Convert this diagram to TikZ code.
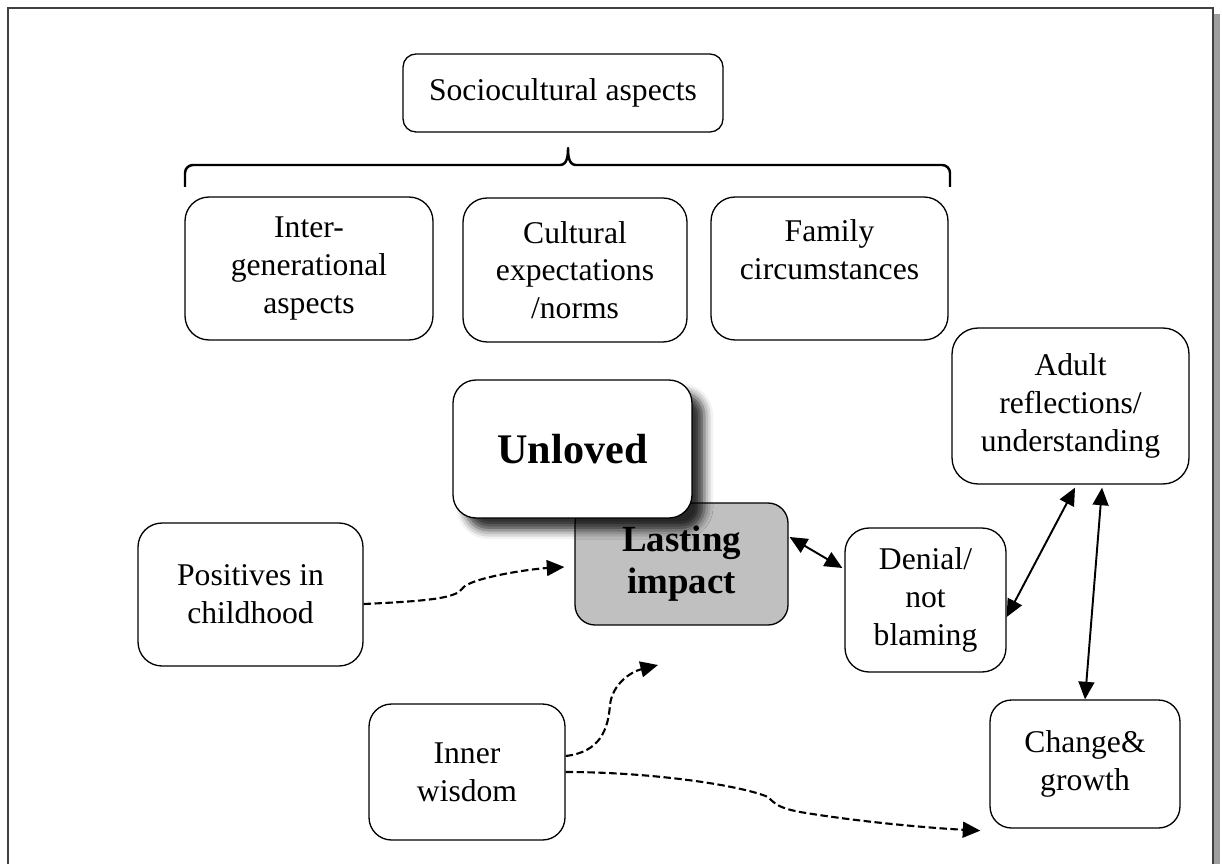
\documentclass[tikz,border=0pt]{standalone}
\usepackage{fontspec}
\setmainfont{Liberation Serif}
\usetikzlibrary{arrows.meta,calc,shadows.blur}

\definecolor{boxgray}{HTML}{C0C0C0}
\definecolor{framegray}{HTML}{9E9E9E}

\begin{document}
\begin{tikzpicture}[x=0.02cm,y=-0.02cm,
  box/.style={draw,line width=0.75pt,align=center,inner sep=0pt,fill=white,
    font=\fontsize{18}{21.5}\selectfont},
  sz/.style n args={3}{minimum width=#1,minimum height=#2,rounded corners=#3},
  bigtext/.style={font=\fontsize{24}{28}\selectfont\bfseries},
  midtext/.style={font=\fontsize{21}{24}\selectfont\bfseries},
  tip/.tip={Triangle[length=10pt,width=9pt]},
  link/.style={line width=1.1pt,tip-tip},
  dasharrow/.style={line width=1.2pt,dash pattern=on 4.2pt off 2pt,-tip},
  bracestroke/.style={line width=1.4pt,line join=round},
  frame/.style={line width=1.2pt,draw=black!75}]

\useasboundingbox (0,0) rectangle (1222,864);
\clip (0,0) rectangle (1222,864);

% page frame with its shadow on the right
\fill[framegray] (1213,14) rectangle (1220,900);
\draw[frame] (8,8) rectangle (1213,900);

% top heading and brace
\node[box,sz={6.4cm}{1.56cm}{0.26cm}] (soc) at (563,93) {Sociocultural aspects};
\draw[bracestroke] (185,187) -- (185,173) to[out=90,in=180] (193,165) -- (560,165)
  to[out=0,in=270] (568,148) to[out=270,in=180] (576,165) -- (942,165)
  to[out=0,in=90] (950,173) -- (950,187);

% the three sociocultural factors
\node[box,sz={4.96cm}{2.86cm}{0.48cm}] (inter) at (309,268.5) {Inter-\\generational\\aspects};
\node[box,sz={4.48cm}{2.88cm}{0.48cm}] (cult) at (575,270) {Cultural\\expectations\\/norms};
\node[box,sz={4.74cm}{2.86cm}{0.48cm}] (fam) at (829.5,268.5) {Family\\circumstances\\\mbox{}};

% central pair
\node[box,fill=boxgray,sz={4.26cm}{2.44cm}{0.4cm},midtext] (lasting) at (681.5,564) {Lasting\\impact};
\node[box,sz={4.78cm}{2.76cm}{0.46cm},bigtext,
  blur shadow={shadow xshift=7pt,shadow yshift=-7pt,shadow blur radius=5pt,shadow opacity=80}]
  (unloved) at (572.5,449) {Unloved};

% right-hand chain
\node[box,sz={4.74cm}{3.12cm}{0.52cm}] (adult) at (1070.5,406) {Adult\\reflections/\\understanding};
\node[box,sz={3.22cm}{2.88cm}{0.48cm}] (denial) at (925.5,600) {Denial/\\not\\blaming};
\node[box,sz={3.8cm}{2.56cm}{0.43cm}] (change) at (1085,764) {Change\&\\growth};

% left-hand influences
\node[box,sz={4.5cm}{2.86cm}{0.48cm}] (pos) at (250.5,594.5) {Positives in\\childhood};
\node[box,sz={3.92cm}{2.72cm}{0.45cm}] (inner) at (467,772) {Inner\\wisdom};

% two-way links
\draw[link] ($(lasting.east)+(1,-27)$) -- ($(denial.west)+(-2,-32)$);
\draw[link] ($(denial.east)+(0,17)$) -- ($(adult.south)+(4.5,3)$);
\draw[link] ($(adult.south)+(31.5,3)$) -- (change.north);

% dashed influences
\coordinate (loose) at (658,665);
\draw[dasharrow] ($(pos.east)+(0,9.5)$) .. controls (430,601) and (455,598) .. (462,589)
  .. controls (468,578) and (530,569) .. ($(lasting.west)+(-10,3)$);
\draw[dasharrow] ($(inner.east)+(0,-16)$) .. controls (600,752) and (608,730) .. (610,705)
  .. controls (612,685) and (630,672) .. (loose);
\draw[dasharrow] (inner.east) .. controls (650,772) and (740,785) .. (768,797)
  .. controls (776,805) and (780,808) .. (800,812)
  .. controls (860,822) and (930,828) .. ($(change.south west)+(-9,2)$);

\end{tikzpicture}
\end{document}
